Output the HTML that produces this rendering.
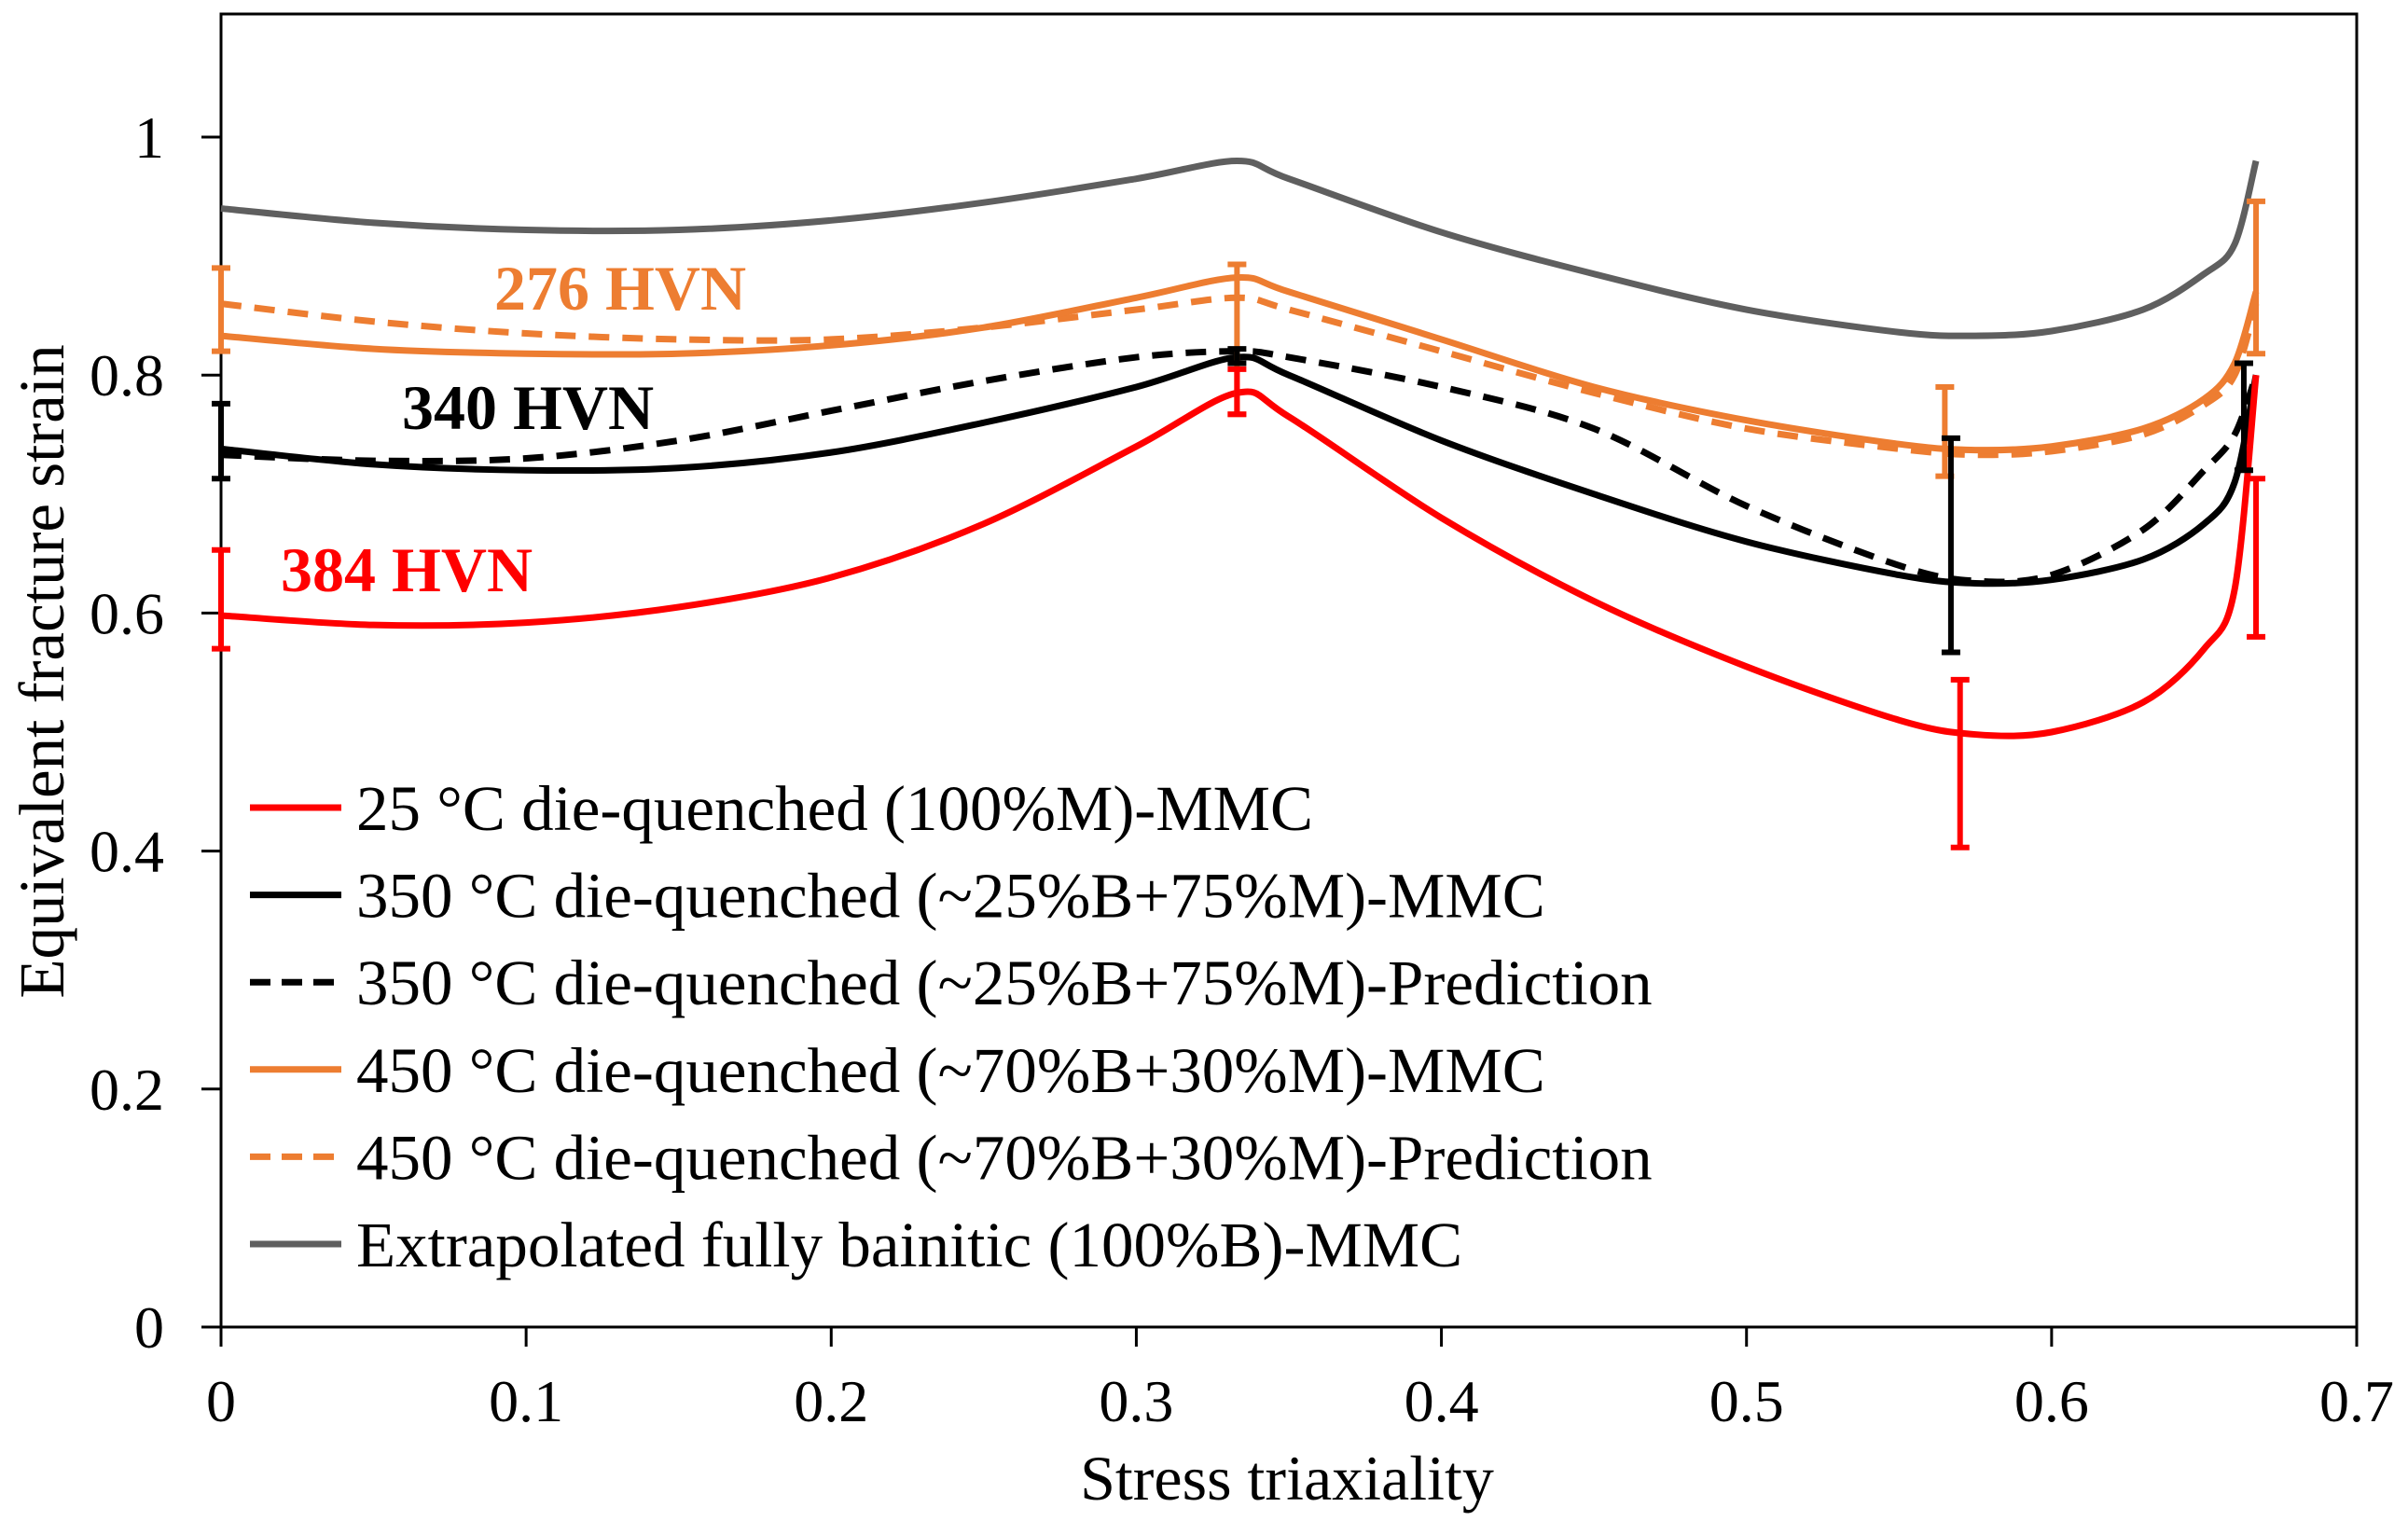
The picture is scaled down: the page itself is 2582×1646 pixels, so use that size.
<!DOCTYPE html>
<html><head><meta charset="utf-8"><style>
html,body{margin:0;padding:0;background:#fff;}
svg{display:block;font-family:"Liberation Serif",serif;}
</style></head><body>
<svg id="chart" width="2582" height="1646" viewBox="0 0 2582 1646" xmlns="http://www.w3.org/2000/svg">
<g id="plot"></g>
</svg>
<script>
const xs = [0,0.05,0.1,0.15,0.2,0.25,0.3,0.333,0.35,0.4,0.45,0.5,0.55,0.575,0.6,0.63,0.65,0.66,0.667];
const red = [0.598,0.59,0.592,0.605,0.63,0.675,0.74,0.785,0.765,0.68,0.61,0.555,0.51,0.498,0.5,0.525,0.57,0.62,0.8];
const blackMMC = [0.738,0.725,0.72,0.722,0.735,0.76,0.79,0.815,0.8,0.745,0.7,0.66,0.632,0.625,0.628,0.645,0.675,0.71,0.8];
const blackPred = [0.733,0.728,0.73,0.745,0.77,0.795,0.815,0.82,0.815,0.79,0.755,0.69,0.64,0.627,0.632,0.67,0.72,0.75,0.8];
const orangeMMC = [0.833,0.822,0.818,0.818,0.825,0.84,0.865,0.882,0.87,0.83,0.79,0.762,0.742,0.737,0.74,0.755,0.78,0.81,0.87];
const orangePred = [0.86,0.845,0.835,0.83,0.83,0.84,0.855,0.865,0.855,0.82,0.785,0.755,0.738,0.733,0.736,0.75,0.775,0.8,0.86];
const gray = [0.94,0.928,0.922,0.922,0.93,0.945,0.965,0.98,0.965,0.92,0.885,0.855,0.836,0.833,0.837,0.855,0.885,0.91,0.98];
const errRedX = [0,0.333,0.57,0.667];
const errRedLo = [0.57,0.767,0.403,0.58];
const errRedHi = [0.653,0.805,0.544,0.713];
const errBlackX = [0,0.333,0.567,0.663];
const errBlackLo = [0.713,0.81,0.567,0.72];
const errBlackHi = [0.776,0.822,0.747,0.81];
const errOrangeX = [0,0.333,0.565,0.667];
const errOrangeLo = [0.82,0.767,0.715,0.818];
const errOrangeHi = [0.89,0.893,0.79,0.946];
const xTicks = [0,0.1,0.2,0.3,0.4,0.5,0.6,0.7];
const xTickLabels = ["0","0.1","0.2","0.3","0.4","0.5","0.6","0.7"];
const yTicks = [0,0.2,0.4,0.6,0.8,1];
const yTickLabels = ["0","0.2","0.4","0.6","0.8","1"];
const legendLabels = ["25 °C die-quenched (100%M)-MMC","350 °C die-quenched (~25%B+75%M)-MMC","350 °C die-quenched (~25%B+75%M)-Prediction","450 °C die-quenched (~70%B+30%M)-MMC","450 °C die-quenched (~70%B+30%M)-Prediction","Extrapolated fully bainitic (100%B)-MMC"];

const X0=237, X1=2527, Y0=1423, Y1=147;
function sx(v){return X0+(X1-X0)*v/0.7;}
function sy(v){return Y0-(Y0-Y1)*v;}
const NS="http://www.w3.org/2000/svg";
const g=document.getElementById('plot');
function mk(tag,attrs,parent){const e=document.createElementNS(NS,tag);for(const k in attrs)e.setAttribute(k,attrs[k]);(parent||g).appendChild(e);return e;}

const frame=mk('rect',{x:X0,y:15,width:X1-X0,height:Y0-15,fill:'none',stroke:'#000','stroke-width':3});



xTicks.forEach((t,i)=>{
  const l=mk('line',{x1:sx(t),x2:sx(t),y1:Y0,y2:Y0+21,stroke:'#000','stroke-width':3});
  
  
  const tx=mk('text',{x:sx(t),y:1524,'font-size':64,'text-anchor':'middle',fill:'#000'});
  tx.textContent=xTickLabels[i];
  
  
});
yTicks.forEach((t,i)=>{
  const l=mk('line',{x1:X0-21,x2:X0,y1:sy(t),y2:sy(t),stroke:'#000','stroke-width':3});
  
  
  const tx=mk('text',{x:176,y:sy(t)+22,'font-size':64,'text-anchor':'end',fill:'#000'});
  tx.textContent=yTickLabels[i];
  
  
});

function pathFor(ys){
  const p=xs.map((x,i)=>[sx(x),sy(ys[i])]);
  let d='M'+p[0][0]+','+p[0][1];
  for(let i=0;i<p.length-1;i++){
    const p0=p[Math.max(0,i-1)],p1=p[i],p2=p[i+1],p3=p[Math.min(p.length-1,i+2)];
    const t=0.16;
    const c1=[p1[0]+(p2[0]-p0[0])*t,p1[1]+(p2[1]-p0[1])*t];
    const c2=[p2[0]-(p3[0]-p1[0])*t,p2[1]-(p3[1]-p1[1])*t];
    d+=' C'+c1[0]+','+c1[1]+' '+c2[0]+','+c2[1]+' '+p2[0]+','+p2[1];
  }
  return d;
}
const series=[
  {ys:gray,c:'#5f5f5f',dash:null,n:'series-bainitic-mmc'},
  {ys:orangePred,c:'#ed7d31',dash:'22,14',n:'series-450-prediction'},
  {ys:orangeMMC,c:'#ed7d31',dash:null,n:'series-450-mmc'},
  {ys:blackPred,c:'#000',dash:'22,14',n:'series-350-prediction'},
  {ys:blackMMC,c:'#000',dash:null,n:'series-350-mmc'},
  {ys:red,c:'#ff0000',dash:null,n:'series-25-mmc'}
];
series.forEach(s=>{
  const a={d:pathFor(s.ys),fill:'none',stroke:s.c,'stroke-width':7,'stroke-linejoin':'round'};
  if(s.dash)a['stroke-dasharray']=s.dash;
  const p=mk('path',a);
  
  
});
function errs(X,lo,hi,c,name){
  X.forEach((x,i)=>{
    const e=mk('g',{stroke:c,'stroke-width':6});
    
    
    const cx=sx(x);
    mk('line',{x1:cx,x2:cx,y1:sy(lo[i]),y2:sy(hi[i])},e);
    mk('line',{x1:cx-10,x2:cx+10,y1:sy(lo[i]),y2:sy(lo[i])},e);
    mk('line',{x1:cx-10,x2:cx+10,y1:sy(hi[i]),y2:sy(hi[i])},e);
  });
}
errs(errOrangeX,errOrangeLo,errOrangeHi,'#ed7d31','error-bar-450');
errs(errBlackX,errBlackLo,errBlackHi,'#000','error-bar-350');
errs(errRedX,errRedLo,errRedHi,'#ff0000','error-bar-25');

const ann=[["276 HVN",530,332,'#ed7d31','label-276-hvn'],["340 HVN",431,460,'#000','label-340-hvn'],["384 HVN",301,634,'#ff0000','label-384-hvn']];
ann.forEach(a=>{
  const t=mk('text',{x:a[1],y:a[2],'font-size':68,'font-weight':'bold',fill:a[3]});
  t.textContent=a[0];
  
  
});

const legCols=['#ff0000','#000','#000','#ed7d31','#ed7d31','#5f5f5f'];
const legDash=[null,null,'22,12',null,'22,12',null];
legendLabels.forEach((lab,i)=>{
  const y=866+i*93.6;
  const gg=mk('g',{});
  
  
  const a={x1:268,x2:366,y1:y,y2:y,stroke:legCols[i],'stroke-width':7};
  if(legDash[i])a['stroke-dasharray']=legDash[i];
  mk('line',a,gg);
  const t=mk('text',{x:382,y:y+24,'font-size':69,fill:'#000'},gg);
  t.textContent=lab;
});

const xt=mk('text',{x:1380,y:1608,'font-size':68,'text-anchor':'middle',fill:'#000'});
xt.textContent='Stress triaxiality';


const yt=mk('text',{x:0,y:0,'font-size':69,'text-anchor':'middle',fill:'#000',transform:'translate(68,720) rotate(-90)'});
yt.textContent='Equivalent fracture strain';


</script>
</body></html>
